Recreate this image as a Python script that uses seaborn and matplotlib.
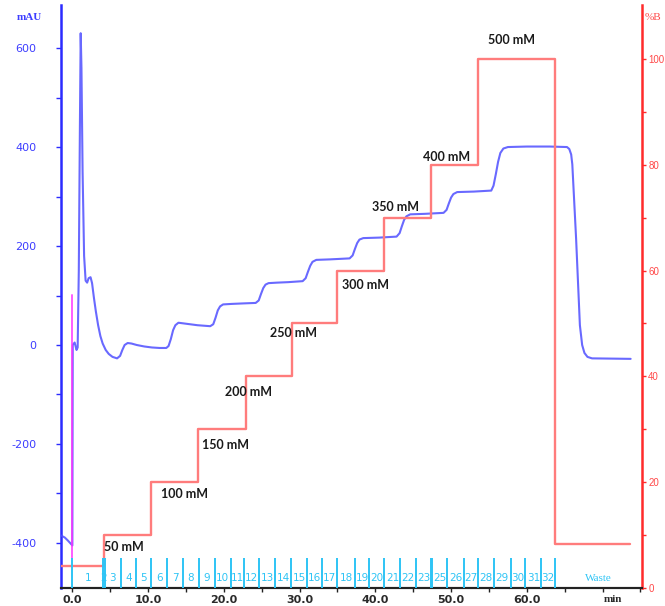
import matplotlib
matplotlib.use("Agg")
import matplotlib.pyplot as plt
import numpy as np
import pandas as pd
import seaborn as sns
from matplotlib.ticker import MultipleLocator

# UV absorbance trace (mAU) against elution time (min)
uv_time = [-1.5, -1.0, -0.6, -0.3, 0.0, 0.05, 0.3, 0.55, 0.7, 0.85, 1.0, 1.1, 1.2,
           1.35, 1.55, 1.75, 1.95, 2.15, 2.4, 2.6, 2.85, 3.1, 3.4, 3.7, 4.0, 4.4,
           4.8, 5.3, 5.9, 6.3, 6.6, 6.9, 7.3, 7.8, 8.5, 9.5, 10.5, 11.5, 12.4,
           12.7, 13.0, 13.3, 13.6, 14.0, 15.0, 16.5, 18.2, 18.6, 18.9, 19.2, 19.5,
           19.9, 21.0, 22.5, 24.2, 24.6, 24.9, 25.2, 25.5, 25.9, 27.0, 28.5, 30.4,
           30.8, 31.1, 31.4, 31.7, 32.2, 34.0, 36.6, 37.0, 37.3, 37.6, 37.9, 38.4,
           40.5, 42.8, 43.2, 43.5, 43.8, 44.1, 44.6, 46.5, 49.0, 49.4, 49.7, 50.0,
           50.3, 50.8, 53.0, 55.3, 55.6, 55.9, 56.2, 56.5, 56.9, 57.5, 60.0, 63.0,
           65.3, 65.6, 65.85, 66.0, 66.5, 67.0, 67.3, 67.6, 68.0, 68.6, 73.7]
uv_mau = [-385, -389, -395, -400, -405, 0, 5, -10, -5, 150, 450, 630, 560,
          350, 180, 130, 126, 135, 137, 125, 95, 68, 40, 18, 3, -10,
          -18, -24, -27, -22, -10, 0, 4, 3, 0, -3, -5, -6, -6,
          -2, 12, 30, 40, 45, 43, 40, 38, 42, 55, 70, 78,
          82, 83, 84, 85, 90, 103, 115, 122, 125, 126, 127, 129,
          135, 148, 160, 168, 172, 173, 175, 181, 194, 206, 213, 216,
          217, 219, 226, 240, 253, 260, 264, 265, 267, 273, 286, 298,
          305, 309, 310, 312, 322, 345, 370, 388, 397, 400, 401, 401,
          400, 396, 385, 365, 215, 40, 0, -16, -24, -27, -28]

# Step gradient of buffer B (%B)
grad_time = [-1.5, 4.15, 10.4, 16.6, 22.9, 29.0, 35.0, 41.2, 47.4, 53.5, 63.7, 73.6]
grad_pct = [4.2, 10, 20, 30, 40, 50, 60, 70, 80, 100, 8.3, 8.3]

# Salt concentration of each step and the gradient step it belongs to
step_names = ["50 mM", "100 mM", "150 mM", "200 mM", "250 mM",
              "300 mM", "350 mM", "400 mM", "500 mM"]
step_index = [1, 2, 3, 4, 5, 6, 7, 8, 9]

# Fraction collector boundaries (min) and fraction numbers
fraction_edges = [0.0, 4.05, 4.3, 6.4, 8.4, 10.4, 12.5, 14.6, 16.7, 18.8, 20.9,
                  22.7, 24.7, 26.7, 28.9, 31.0, 33.0, 35.0, 37.3, 39.2, 41.2,
                  43.3, 45.4, 47.3, 47.5, 49.5, 51.7, 53.6, 55.6, 57.9, 59.8,
                  61.9, 63.7]
fraction_names = ["1", "2", "3", "4", "5", "6", "7", "8", "9", "10", "11", "12",
                  "13", "14", "15", "16", "17", "18", "19", "20", "21", "22",
                  "23", "", "25", "26", "27", "28", "29", "30", "31", "32"]
waste_name = "Waste"
injection_time = 0.0

uv = pd.DataFrame({"time": uv_time, "mAU": uv_mau})
grad = pd.DataFrame({"time": grad_time, "pctB": grad_pct})

sns.set_theme(style="white")
plt.rcParams["font.family"] = ["DejaVu Sans"]
plt.rcParams["axes.unicode_minus"] = False

BLUE_AX = "#2b2bff"
RED_AX = "#ff2b2b"
CYAN = "#2ec4f5"

W, H = 665, 606
fig = plt.figure(figsize=(W / 100, H / 100), dpi=100)
ax = fig.add_axes([61 / W, 18 / H, (642 - 61) / W, (588 - 5) / H])
ax2 = ax.twinx()

# UV trace
sns.lineplot(data=uv, x="time", y="mAU", ax=ax, sort=False, estimator=None,
             color="#4f4fff", linewidth=1.5, alpha=0.85, zorder=3)

# Gradient
sns.lineplot(data=grad, x="time", y="pctB", ax=ax2, sort=False, estimator=None,
             drawstyle="steps-post", color="#ff7c7c", linewidth=1.7, zorder=2)

ax.set_xlim(-1.5, 75.2)
ax.set_ylim(-491, 687)
ax2.set_ylim(0, 110.2)
ax.set_xlabel("")
ax.set_ylabel("")
ax2.set_ylabel("")

# Injection mark
xform = ax2.get_xaxis_transform()
ax2.plot([injection_time, injection_time], [0.0515, 0.5026], transform=xform,
         color="#ff33ff", linewidth=1.4, alpha=0.8, zorder=4)

# Fraction marks and numbers
ax2.vlines(fraction_edges, 0, 0.0515, transform=xform, color=CYAN,
           linewidth=1.4, zorder=5)
for a, b, name in zip(fraction_edges[:-1], fraction_edges[1:], fraction_names):
    if name:
        ax2.text((a + b) / 2, 0.017, name, transform=xform, ha="center",
                 va="center", fontsize=7.5, color=CYAN, zorder=6)
ax2.text((fraction_edges[-1] + 75.2) / 2, 0.017, waste_name, transform=xform,
         ha="center", va="center", fontsize=8, color=CYAN,
         family=["Liberation Serif"], zorder=6)

# Salt concentration labels next to each step
label_offsets = [(0, -12), (10, -12), (4, -16), (-21, -16), (-22, -10),
                 (5, -14), (-12, 11), (-8, 8), (10, 19)]
for name, idx, (dx, dy) in zip(step_names, step_index, label_offsets):
    ax2.annotate(name, (grad_time[idx], grad_pct[idx]), xytext=(dx, dy),
                 textcoords="offset pixels", ha="left", va="center",
                 fontsize=9, fontweight="bold", color="#1a1a1a",
                 family=["Lato", "DejaVu Sans"], zorder=7)

# Axes styling
for a in (ax, ax2):
    a.spines["top"].set_visible(False)
ax.spines["left"].set_color(BLUE_AX)
ax.spines["left"].set_linewidth(1.8)
ax.spines["right"].set_visible(False)
ax2.spines["left"].set_visible(False)
ax2.spines["right"].set_color(RED_AX)
ax2.spines["right"].set_linewidth(1.8)
ax2.spines["bottom"].set_color("#222222")
ax2.spines["bottom"].set_linewidth(1.5)
ax.spines["bottom"].set_color("#222222")
ax.spines["bottom"].set_linewidth(1.5)

ax.set_xticks(np.arange(0, 61, 10))
ax.set_xticklabels([f"{v:.1f}" for v in np.arange(0, 61, 10)])
ax.set_xticks(np.arange(5, 76, 5), minor=True)
ax.tick_params(axis="x", which="both", direction="out", length=3, width=1,
               color="#222222", pad=2, labelsize=8, labelcolor="#2a2a2a",
               bottom=True)
for t in ax.get_xticklabels():
    t.set_fontweight("bold")

ax.set_yticks(np.arange(-400, 601, 200))
ax.set_yticks(np.arange(-300, 601, 200), minor=True)
ax.tick_params(axis="y", which="both", direction="out", length=3.5, width=1,
               color=BLUE_AX, pad=14, labelsize=8, labelcolor="#3d3dff",
               left=True)

ax2.set_yticks(np.arange(0, 101, 20))
ax2.set_yticks(np.arange(10, 101, 20), minor=True)
ax2.tick_params(axis="y", which="both", direction="out", length=3, width=1,
                color=RED_AX, pad=1.5, labelsize=7, labelcolor="#ff4848",
                right=True)
for t in ax2.get_yticklabels():
    t.set_family(["Liberation Sans"])

# Axis titles
fig.text(29 / W, 1 - 17 / H, "mAU", ha="center", va="center", fontsize=8,
         color="#3d3dff", family=["Liberation Serif"], fontweight="bold")
fig.text(653 / W, 1 - 17 / H, "%B", ha="center", va="center", fontsize=8,
         color="#ff4848", family=["Liberation Serif"])
fig.text(613 / W, 1 - 600 / H, "min", ha="center", va="center", fontsize=8,
         color="#2a2a2a", family=["Liberation Serif"], fontweight="bold")

fig.savefig("out.png", dpi=100)
